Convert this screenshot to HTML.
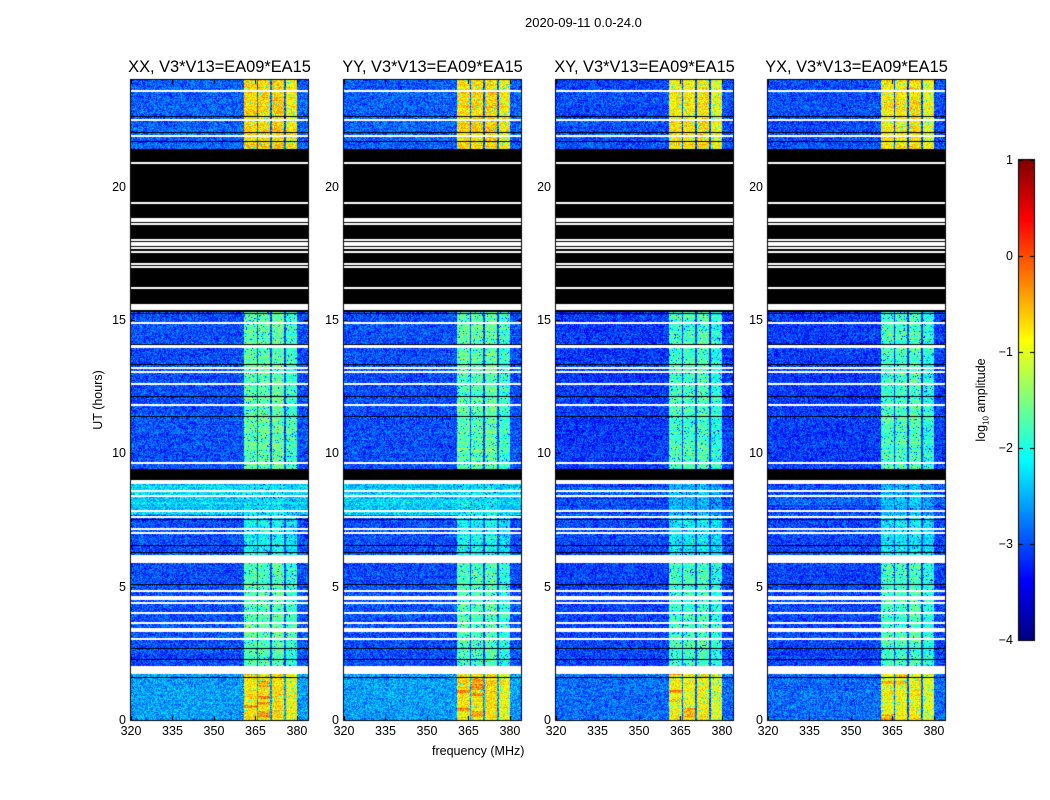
<!DOCTYPE html>
<html><head><meta charset="utf-8">
<style>
body{margin:0;background:#fff;}
#wrap{position:relative;width:1050px;height:800px;font-family:"Liberation Sans",sans-serif;color:#000;overflow:hidden;}
canvas{position:absolute;left:0;top:0;}
.t{position:absolute;white-space:nowrap;}
.tick{font-size:12.5px;}
.title{font-size:16.4px;transform:translateX(-50%);}
</style></head><body>
<div id="wrap">
<canvas id="cv" width="1050" height="800"></canvas>
<div class="t" style="left:525px;top:15px;font-size:13px">2020-09-11 0.0-24.0</div>
<div class="t" style="left:432px;top:744px;font-size:12.5px">frequency (MHz)</div>
<div class="t" style="left:98px;top:400px;font-size:12.5px;transform:translate(-50%,-50%) rotate(-90deg)">UT (hours)</div>
<div class="t" style="left:982px;top:400px;font-size:12.5px;transform:translate(-50%,-50%) rotate(-90deg)">log<sub style="font-size:8px">10</sub> amplitude</div>
<div id="labels"></div>
</div>
<script>
// ---- data ----
const panelTitles = ["XX, V3*V13=EA09*EA15","YY, V3*V13=EA09*EA15","XY, V3*V13=EA09*EA15","YX, V3*V13=EA09*EA15"];
const yTicks = [0,5,10,15,20];
const xTicks = [320,335,350,365,380];
const cbTicks = [1,0,-1,-2,-3,-4];
// time bands: start hour, end hour
const bandStart = [0, 2.0, 6.2, 7.7, 9.0, 9.4, 15.3, 21.4];
const bandEnd   = [1.8, 5.9, 7.7, 8.9, 9.4, 15.3, 21.4, 24];
const bandFlagged = [0,0,0,0,1,0,1,0];
// background level (log10) per band, parallel (XX,YY) and cross (XY,YX)
const bgPar   = [-2.6,-3.0,-3.0,-2.3,-4,-3.0,-4,-2.9];
const bgCross = [-2.85,-3.05,-3.05,-3.0,-4,-3.1,-4,-3.0];
// RFI column level per band
const colPar   = [-0.85,-1.85,-2.2,-2.3,-4,-1.8,-4,-0.8];
const colCross = [-1.0,-1.9,-2.3,-2.6,-4,-1.9,-4,-0.9];
// frequency columns (MHz)
const colStart = [361,365.9,370.9,375.9];
const colEnd   = [365.5,370.4,375.4,380];
const colOffset= [0.1,0.1,0.15,-0.05];
// horizontal flag lines (hours)
const whiteLines = [23.6,22.5,21.9,20.9,19.4,18.8,18.7,18.6,18.0,17.9,17.8,17.7,17.55,17.1,17.0,16.2,15.55,15.5,15.4,14.9,14.05,14.0,13.2,13.05,12.6,11.8,9.65,8.9,8.6,8.4,7.85,7.6,7.15,7.0,6.05,6.0,5.95,4.85,4.6,4.55,4.4,4.0,3.65,3.4,3.35,3.05,2.0,1.95,1.9,1.78];
const blackLines = [22.65,22.05,21.7,15.25,14.1,13.35,12.15,11.4,9.1,9.05,7.55,6.55,6.3,5.1,2.7,2.3,1.6];

// ---- layout ----
const panelLeft = [131,344,556,768];
const PW = 177, PT = 80, PB = 720;
const fmin = 320, fmax = 384, tmax = 24;
const xs = (p,f) => panelLeft[p] + (f - fmin) / (fmax - fmin) * PW;
const ys = h => PB - h / tmax * (PB - PT);
const CB = {x:1019,w:15,top:160,bot:640,vmin:-4,vmax:1};
const cby = v => CB.bot - (v - CB.vmin)/(CB.vmax-CB.vmin)*(CB.bot-CB.top);

function jet(v){
  let t=(v+4)/5; t=Math.max(0,Math.min(1,t));
  const c=x=>Math.max(0,Math.min(1,x));
  return [c(1.5-Math.abs(4*t-3))*255,c(1.5-Math.abs(4*t-2))*255,c(1.5-Math.abs(4*t-1))*255];
}
function hash(a,b,c){let h=(a*374761393+b*668265263+c*2147483647)|0;h=(h^(h>>>13))*1274126177|0;h=h^(h>>>16);return ((h>>>0)%10000)/10000;}

const cv=document.getElementById('cv'),ctx=cv.getContext('2d');
const img=ctx.createImageData(1050,800);
for(let i=0;i<img.data.length;i++)img.data[i]=255;
for(let p=0;p<4;p++){
  const cross=p>=2;
  for(let py=PT;py<PB;py++){
    const h=(PB-py-0.5)/(PB-PT)*tmax;
    let b=-1;for(let i=0;i<bandStart.length;i++) if(h>=bandStart[i]&&h<bandEnd[i]) b=i;
    const row=Math.floor(h/0.0375);
    const rowVar=(hash(row,7,p)-0.5)*0.3;
    for(let px=panelLeft[p];px<panelLeft[p]+PW;px++){
      const f=fmin+(px-panelLeft[p]+0.5)/PW*(fmax-fmin);
      const ch=Math.floor(f/0.36);
      let rgb;
      if(b<0){rgb=[255,255,255];}
      else if(bandFlagged[b]){rgb=[0,0,0];}
      else{
        const n=hash(ch,row,p);
        let v=(cross?bgCross:bgPar)[b]+(n-0.5)*0.9+rowVar*(b===3?1.5:0.5);
        for(let k=0;k<colStart.length;k++){
          if(f>=colStart[k]&&f<colEnd[k]){
            const m=hash(ch,row,p+9);
            v=(cross?colCross:colPar)[b]+colOffset[k]+(m-0.5)*0.8+rowVar;
            if(m<0.06) v-=0.9;
            if(b===0&&k<2&&hash(Math.floor(row/3),k,p)>0.8) v+=0.45;
          }
        }
        rgb=jet(v);
      }
      const o=(py*1050+px)*4;img.data[o]=rgb[0];img.data[o+1]=rgb[1];img.data[o+2]=rgb[2];
    }
  }
}
// colorbar
for(let py=CB.top;py<CB.bot;py++){
  const v=CB.vmax-(py-CB.top+0.5)/(CB.bot-CB.top)*(CB.vmax-CB.vmin);
  const rgb=jet(v);
  for(let px=CB.x;px<CB.x+CB.w;px++){const o=(py*1050+px)*4;img.data[o]=rgb[0];img.data[o+1]=rgb[1];img.data[o+2]=rgb[2];}
}
ctx.putImageData(img,0,0);

// flag lines
for(let p=0;p<4;p++){
  ctx.fillStyle='#fff';
  whiteLines.forEach(h=>ctx.fillRect(panelLeft[p],Math.round(ys(h))-1,PW,2));
  ctx.fillStyle='#000';
  blackLines.forEach(h=>ctx.fillRect(panelLeft[p],Math.round(ys(h)),PW,1));
}
// axes frames & ticks
ctx.strokeStyle='#000';ctx.lineWidth=1;
for(let p=0;p<4;p++){
  ctx.strokeRect(panelLeft[p]-0.5,PT-0.5,PW+1,PB-PT+1);
  ctx.beginPath();
  yTicks.forEach(t=>{const y=Math.round(ys(t))+0.5;ctx.moveTo(panelLeft[p],y);ctx.lineTo(panelLeft[p]+4,y);ctx.moveTo(panelLeft[p]+PW,y);ctx.lineTo(panelLeft[p]+PW-4,y);});
  xTicks.forEach(t=>{const x=Math.round(xs(p,t))+0.5;ctx.moveTo(x,PB);ctx.lineTo(x,PB-4);ctx.moveTo(x,PT);ctx.lineTo(x,PT+4);});
  ctx.stroke();
}
ctx.strokeRect(CB.x-0.5,CB.top-0.5,CB.w+1,CB.bot-CB.top+1);
ctx.beginPath();
cbTicks.forEach(t=>{const y=Math.round(cby(t))+0.5;ctx.moveTo(CB.x,y);ctx.lineTo(CB.x+4,y);ctx.moveTo(CB.x+CB.w,y);ctx.lineTo(CB.x+CB.w-4,y);});
ctx.stroke();

// labels
const L=document.getElementById('labels');
function lab(txt,x,y,cls,name,tr){
  const d=document.createElement('div');d.className='t '+cls;d.textContent=txt;
  d.style.left=x+'px';d.style.top=y+'px';if(tr)d.style.transform=tr;
  
  
  L.appendChild(d);
}
for(let p=0;p<4;p++){
  lab(panelTitles[p],panelLeft[p]+PW/2,58,'title','panel-title');
  yTicks.forEach(t=>lab(String(t),panelLeft[p]-5,ys(t),'tick','y-tick-label','translate(-100%,-50%)'));
  xTicks.forEach(t=>lab(String(t),xs(p,t),724,'tick','x-tick-label','translateX(-50%)'));
}
cbTicks.forEach(t=>lab(t<0?'\u2212'+(-t):String(t),1013,cby(t),'tick','colorbar-tick-label','translate(-100%,-50%)'));
</script>
</body></html>
